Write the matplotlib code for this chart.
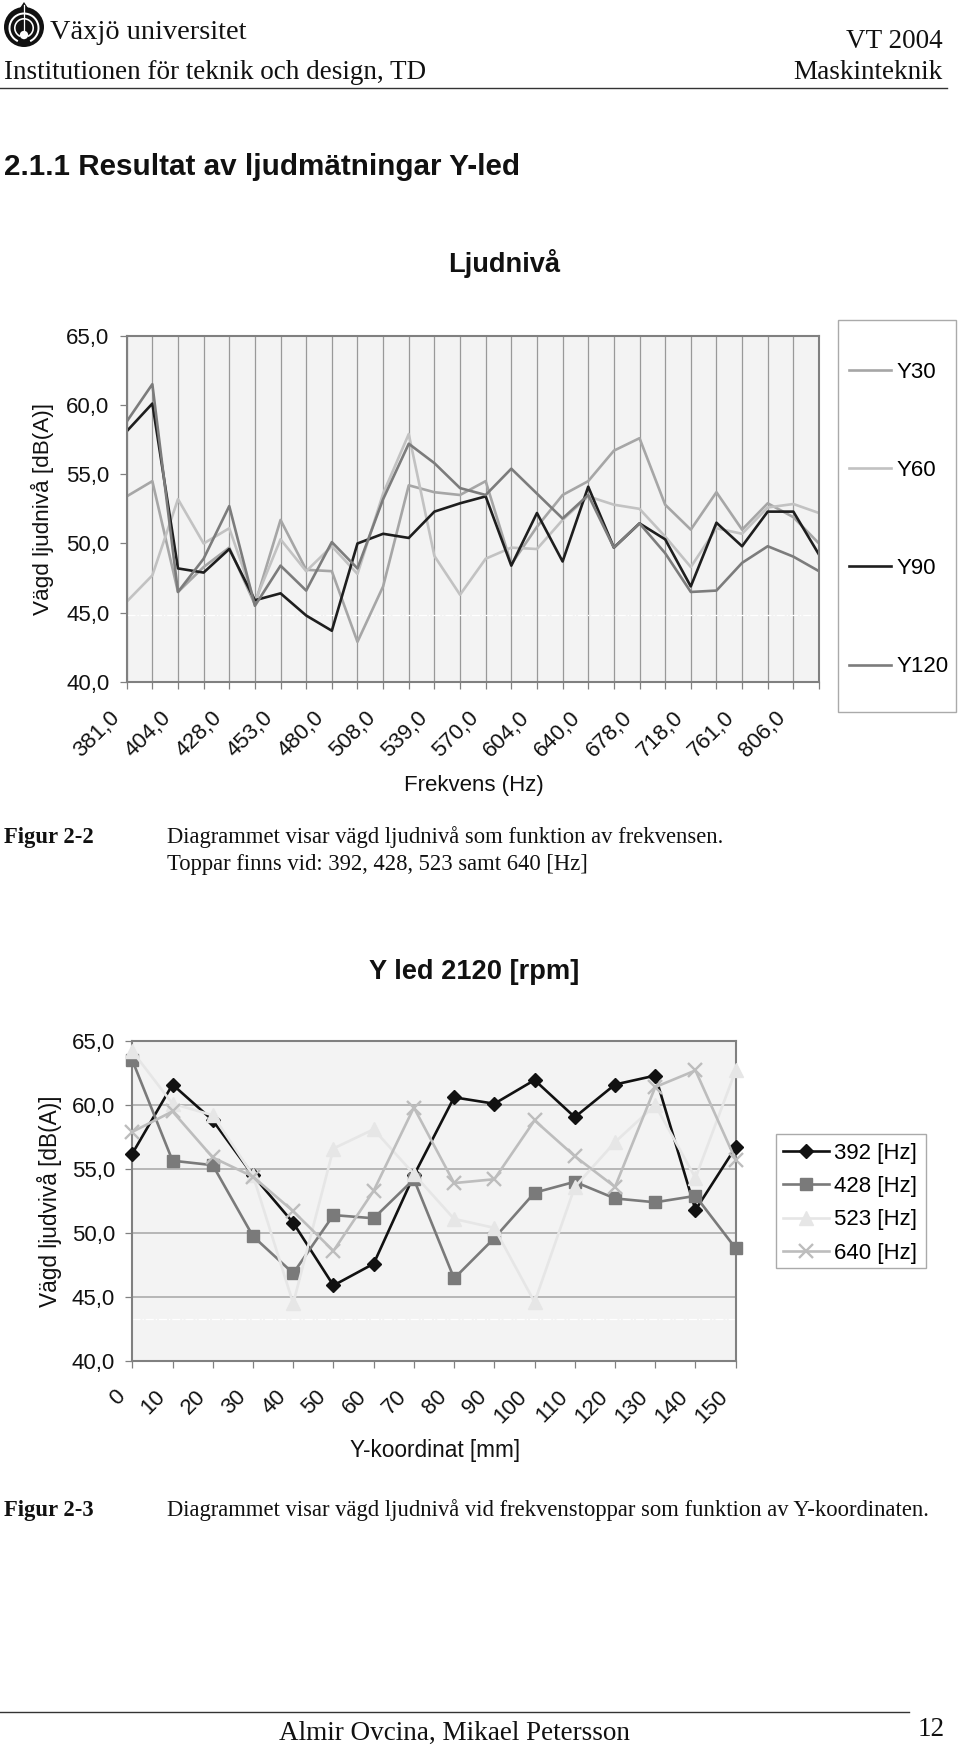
# -*- coding: utf-8 -*-
import matplotlib
matplotlib.use("Agg")
import matplotlib.pyplot as plt
from matplotlib.patches import Circle, Wedge, Polygon, Rectangle
from matplotlib.transforms import ScaledTranslation

W = 960
H = 1746

# ---- data, first chart
freq_labels = ['381,0', '404,0', '428,0', '453,0', '480,0', '508,0', '539,0',
               '570,0', '604,0', '640,0', '678,0', '718,0', '761,0', '806,0']
y30 = [53.4, 54.5, 46.5, 48.3, 49.7, 45.6, 51.7, 48.1, 48.0, 42.9, 46.9, 54.2, 53.7, 53.5,
       54.5, 48.5, 51.2, 53.5, 54.5, 56.7, 57.6, 52.8, 51.0, 53.7, 51.0, 52.9, 51.9, 50.0]
y60 = [45.8, 47.7, 53.2, 50.0, 51.1, 45.8, 50.3, 48.0, 49.8, 47.8, 53.6, 57.9, 49.1, 46.3,
       48.9, 49.7, 49.6, 51.7, 53.4, 52.8, 52.5, 50.5, 48.3, 51.1, 50.7, 52.6, 52.85, 52.2]
y90 = [58.1, 60.1, 48.2, 47.9, 49.6, 45.9, 46.4, 44.8, 43.7, 50.0, 50.7, 50.4, 52.3, 52.9,
       53.4, 48.4, 52.2, 48.7, 54.1, 49.7, 51.45, 50.3, 46.9, 51.5, 49.8, 52.3, 52.3, 49.2]
y120 = [58.8, 61.5, 46.5, 48.9, 52.7, 45.5, 48.4, 46.6, 50.1, 48.2, 53.2, 57.2, 55.8, 54.0,
        53.5, 55.4, 53.6, 51.8, 53.5, 49.7, 51.45, 49.3, 46.5, 46.6, 48.6, 49.8, 49.05, 48.0]

# ---- data, second chart
coord_labels = ['0', '10', '20', '30', '40', '50', '60', '70',
                '80', '90', '100', '110', '120', '130', '140', '150']
hz392 = [56.2, 61.6, 58.8, 54.5, 50.8, 45.9, 47.6, 54.5, 60.6, 60.1, 61.95, 59.05, 61.6, 62.3, 51.8, 56.7]
hz428 = [63.5, 55.65, 55.3, 49.75, 46.85, 51.4, 51.15, 54.2, 46.45, 49.6, 53.15, 54.0, 52.7, 52.4, 52.9, 48.8]
hz523 = [64.2, 60.1, 59.2, 54.5, 44.5, 56.6, 58.1, 54.6, 51.1, 50.4, 44.6, 53.6, 57.1, 60.0, 54.3, 62.7]
hz640 = [57.9, 59.5, 55.9, 54.4, 51.7, 48.6, 53.3, 59.8, 53.9, 54.2, 58.8, 56.0, 53.6, 61.4, 62.7, 55.7]

y_ticks = [40, 45, 50, 55, 60, 65]
y_labels = ['40,0', '45,0', '50,0', '55,0', '60,0', '65,0']

SANS = 'Liberation Sans'
SERIF = 'Liberation Serif'
INK = '#111111'
plt.rcParams['font.family'] = SANS


def px_axes(fig, x0, y0, x1, y1):
    """axes from pixel box, y counted from the top of the page"""
    return fig.add_axes([x0 / W, 1 - y1 / H, (x1 - x0) / W, (y1 - y0) / H])


def style_chart(ax):
    ax.set_facecolor('#f3f3f3')
    ax.set_ylim(40, 65)
    ax.set_yticks(y_ticks)
    ax.set_yticklabels(y_labels, fontsize=16, color=INK)
    for s in ax.spines.values():
        s.set_color('#808080')
        s.set_linewidth(1.5)
    ax.tick_params(axis='both', length=5, width=0.9, color='#808080')
    ax.tick_params(axis='y', pad=7.5)
    ax.tick_params(axis='x', pad=13)
    ax.set_axisbelow(True)


def shift_labels(ax, dx):
    # excel puts the rotated labels left of the tick
    for lab in ax.get_xticklabels():
        lab.set_transform(lab.get_transform() + ScaledTranslation(dx / 100, 0, fig.dpi_scale_trans))


fig = plt.figure(figsize=(W / 100, H / 100), dpi=100, facecolor='white')

# page layer, in pixels
page = fig.add_axes([0, 0, 1, 1])
page.set_xlim(0, W)
page.set_ylim(H, 0)
page.axis('off')

# logo
page.add_patch(Circle((24, 27), 20, fc=INK, ec='none'))
page.add_patch(Polygon([(24, 2), (18, 11), (30, 11)], fc=INK, ec='none'))
for r, w in [(15.5, 2.0), (10, 1.6)]:
    page.add_patch(Wedge((24, 28), r, 115, 65, width=w, fc='white', ec='none'))
page.plot([24, 24], [5, 32], color='white', lw=0.9)
page.add_patch(Circle((24, 35), 4.2, fc='white', ec='none'))

page.text(50, 39, 'Växjö universitet', family=SERIF, fontsize=20.4, color=INK, va='baseline')
page.text(4, 79, 'Institutionen för teknik och design, TD', family=SERIF, fontsize=19.5, color=INK, va='baseline')
page.text(943, 48, 'VT 2004', family=SERIF, fontsize=19.5, color=INK, ha='right', va='baseline')
page.text(943, 79, 'Maskinteknik', family=SERIF, fontsize=19.5, color=INK, ha='right', va='baseline')
page.plot([0, 947], [88, 88], color='#333333', lw=1)

page.text(4, 175, '2.1.1 Resultat av ljudmätningar Y-led', fontsize=21.3, fontweight='bold', color=INK, va='baseline')
page.text(504, 263, 'Ljudnivå', fontsize=19.6, fontweight='bold', color=INK, ha='center', va='center')
page.text(474, 972, 'Y led 2120 [rpm]', fontsize=19.6, fontweight='bold', color=INK, ha='center', va='center')

page.text(474, 785, 'Frekvens (Hz)', fontsize=16, color=INK, ha='center', va='center')
page.text(435, 1451, 'Y-koordinat [mm]', fontsize=16.3, color=INK, ha='center', va='center')
page.text(42, 509, 'Vägd ljudnivå [dB(A)]', fontsize=16.2, color=INK, rotation=90, ha='center', va='center')
page.text(50, 1201, 'Vägd ljudvivå [dB(A)]', fontsize=16.3, color=INK, rotation=90, ha='center', va='center')

page.text(4, 843, 'Figur 2-2', family=SERIF, fontsize=16.3, fontweight='bold', color=INK, va='baseline')
page.text(167, 843, 'Diagrammet visar vägd ljudnivå som funktion av frekvensen.', family=SERIF, fontsize=16.25, color=INK, va='baseline')
page.text(167, 870, 'Toppar finns vid: 392, 428, 523 samt 640 [Hz]', family=SERIF, fontsize=16.25, color=INK, va='baseline')
page.text(4, 1516, 'Figur 2-3', family=SERIF, fontsize=16.3, fontweight='bold', color=INK, va='baseline')
page.text(167, 1516, 'Diagrammet visar vägd ljudnivå vid frekvenstoppar som funktion av Y-koordinaten.', family=SERIF, fontsize=16.25, color=INK, va='baseline')

page.plot([0, 909], [1712, 1712], color='#333333', lw=1)
page.text(454, 1740, 'Almir Ovcina, Mikael Petersson', family=SERIF, fontsize=19.5, color=INK, ha='center', va='baseline')
page.text(945, 1736, '12', family=SERIF, fontsize=19.5, color=INK, ha='right', va='baseline')

# legend frames
page.add_patch(Rectangle((838, 320), 118, 392, fc='white', ec='#aaaaaa', lw=1))
page.add_patch(Rectangle((775.7, 1134), 150.3, 134, fc='white', ec='#aaaaaa', lw=1))

# first chart
ax1 = px_axes(fig, 126.7, 335.7, 819, 682)
style_chart(ax1)
n1 = len(y30)
xs1 = list(range(n1))
ax1.set_xlim(0, n1 - 1)
ax1.set_xticks(xs1)
ax1.set_xticklabels([lab for pair in zip(freq_labels, [''] * 14) for lab in pair], fontsize=16,
                    rotation=45, ha='right', rotation_mode='anchor', color=INK)
shift_labels(ax1, -18)
ax1.grid(axis='x', color='#999999', lw=0.9)
ax1.axhline(44.84, color='white', lw=0.9, ls='-.')
ax1.plot(xs1, y30, color='#a6a6a6', lw=1.9, label='Y30')
ax1.plot(xs1, y60, color='#c2c2c2', lw=1.9, label='Y60')
ax1.plot(xs1, y90, color='#1e1e1e', lw=1.9, label='Y90')
ax1.plot(xs1, y120, color='#7c7c7c', lw=1.9, label='Y120')
fig.legend(*ax1.get_legend_handles_labels(), loc='upper left',
           bbox_to_anchor=(849 / W, 1 - 361.5 / H), bbox_transform=fig.transFigure,
           fontsize=16, frameon=False, borderaxespad=0, borderpad=0, labelspacing=3.48,
           handlelength=1.89, handletextpad=0.23)

# second chart
ax2 = px_axes(fig, 132.3, 1041, 735.7, 1361)
style_chart(ax2)
xs2 = list(range(len(hz392)))
ax2.set_xlim(0, len(xs2) - 1)
ax2.set_xticks(xs2)
ax2.set_xticklabels(coord_labels, fontsize=16, rotation=45, ha='right',
                    rotation_mode='anchor', color=INK)
shift_labels(ax2, -18)
ax2.grid(axis='y', color='#a6a6a6', lw=1.1)
ax2.axhline(43.25, color='white', lw=0.9, ls='-.')
ax2.plot(xs2, hz392, color=INK, lw=1.9, marker='D', ms=7, clip_on=False, zorder=3, label='392 [Hz]')
ax2.plot(xs2, hz428, color='#7a7a7a', lw=1.9, marker='s', ms=9, clip_on=False, zorder=4, label='428 [Hz]')
ax2.plot(xs2, hz523, color='#e6e6e6', lw=1.9, marker='^', ms=10, clip_on=False, zorder=5, label='523 [Hz]')
ax2.plot(xs2, hz640, color='#bdbdbd', lw=1.9, marker='x', ms=10, mew=1.7, clip_on=False, zorder=6, label='640 [Hz]')
fig.legend(*ax2.get_legend_handles_labels(), loc='upper left',
           bbox_to_anchor=(783 / W, 1 - 1142.5 / H), bbox_transform=fig.transFigure,
           fontsize=16, frameon=False, borderaxespad=0, borderpad=0, labelspacing=0.56,
           handlelength=2.07, handletextpad=0.22)

fig.savefig('out.png', dpi=100)
